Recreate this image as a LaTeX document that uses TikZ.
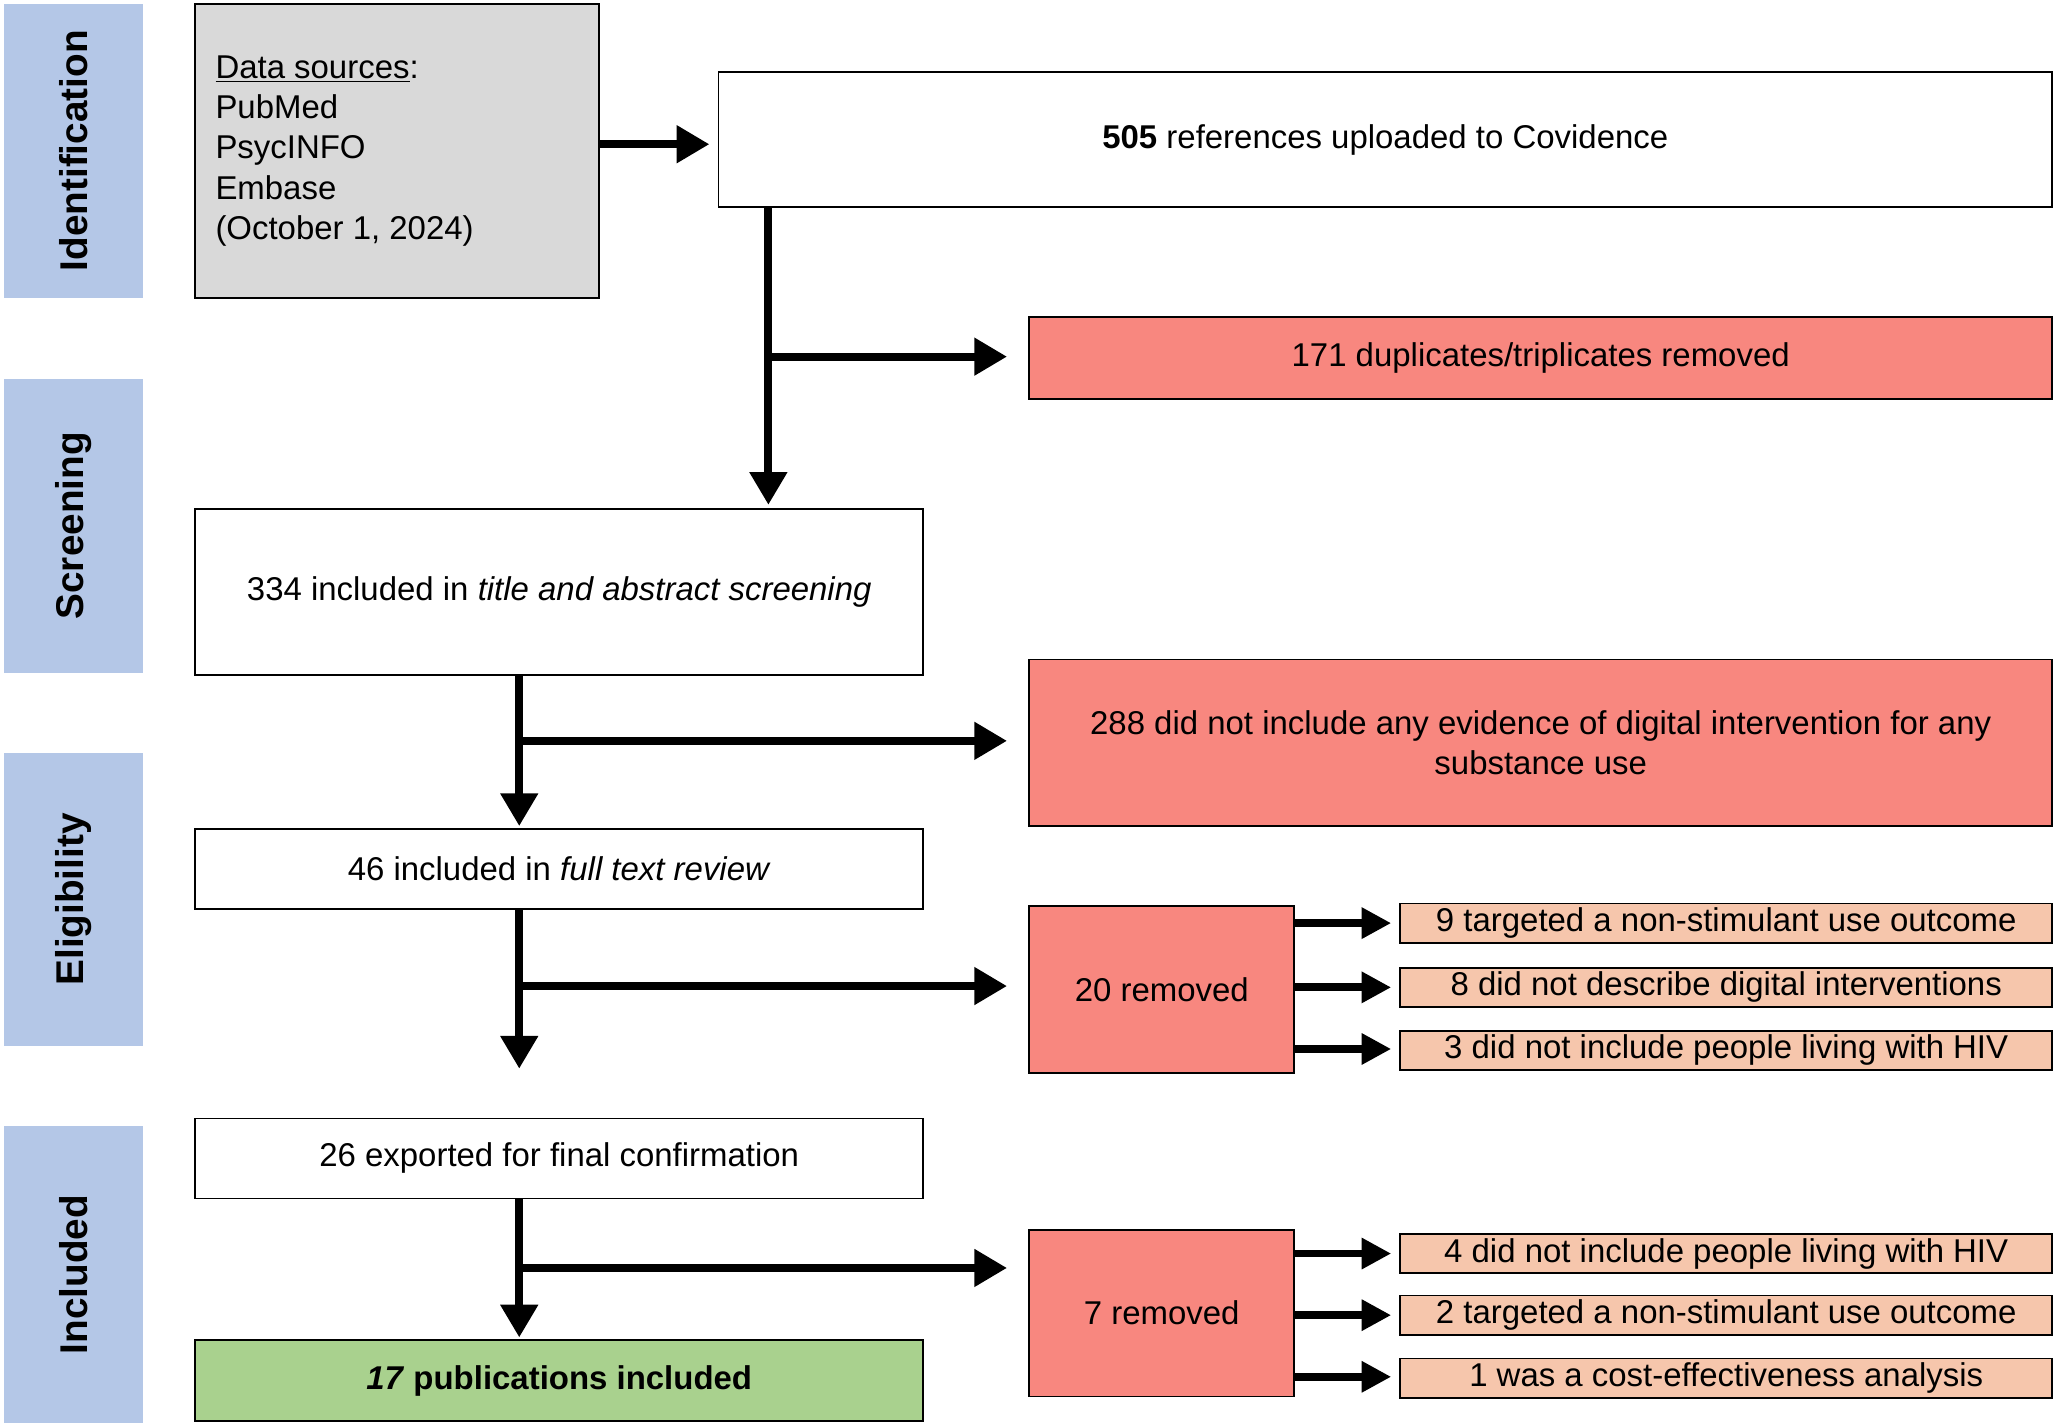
\documentclass[tikz,border=0pt]{standalone}
\usepackage{fontspec}
\setmainfont{Liberation Sans}
\usetikzlibrary{fit,arrows.meta}
\definecolor{side}{HTML}{B4C7E7}
\definecolor{gr}{HTML}{D9D9D9}
\definecolor{rd}{HTML}{F8877F}
\definecolor{pc}{HTML}{F6C6AC}
\definecolor{gn}{HTML}{A9D18E}
\begin{document}
\begin{tikzpicture}[x=0.02cm,y=-0.02cm,
  font=\fontsize{14.3}{17.5}\selectfont,
  box/.style={draw=black,line width=0.8pt,inner sep=0pt},
  tx/.style={align=center,inner sep=0pt},
  sidebox/.style={fill=side,inner sep=0pt},
  sidetext/.style={rotate=90,font=\fontsize{16.8}{19}\selectfont\bfseries},
  arr/.style={line width=3.4pt,-{Triangle[length=0.5cm,width=0.55cm]}},
  sarr/.style={line width=3.4pt,-{Triangle[length=0.45cm,width=0.45cm]}}]
\useasboundingbox (0,0) rectangle (1568,1088);
% side bars
\node[sidebox,fit={(3,3)(109,227)}] (s1) {};
\node[sidetext] (s1t) at (s1.center) {Identification};
\node[sidebox,fit={(3,289)(109,513)}] (s2) {};
\node[sidetext] (s2t) at (s2.center) {Screening};
\node[sidebox,fit={(3,574)(109,798)}] (s3) {};
\node[sidetext] (s3t) at (s3.center) {Eligibility};
\node[sidebox,fit={(3,859)(109,1085)}] (s4) {};
\node[sidetext] (s4t) at (s4.center) {Included};
% boxes
\node[box,fill=gr,fit={(149,3)(457,227)}] (ds) {};
\node[anchor=west,align=left,inner sep=0pt] (dst) at (164,115) {\underline{Data sources}:\\PubMed\\PsycINFO\\Embase\\(October 1, 2024)};
\node[box,fill=white,fit={(548,55)(1565,158)}] (ref) {};
\node[tx] (reft) at (ref.center) {\textbf{505} references uploaded to Covidence};
\node[box,fill=rd,fit={(785,242)(1565,304)}] (dup) {};
\node[tx] (dupt) at (dup.center) {171 duplicates/triplicates removed};
\node[box,fill=white,fit={(149,388)(704,515)}] (scr) {};
\node[tx] (scrt) at (scr.center) {334 included in \textit{title and abstract screening}};
\node[box,fill=rd,fit={(785,503)(1565,630)}] (ex1) {};
\node[tx] (ex1t) at (ex1.center) {288 did not include any evidence of digital intervention for any\\substance use};
\node[box,fill=white,fit={(149,632)(704,693)}] (ft) {};
\node[tx] (ftt) at (ft.center) {46 included in \textit{full text review}};
\node[box,fill=rd,fit={(785,691)(987,818)}] (r20) {};
\node[tx] (r20t) at (r20.center) {20 removed};
\node[box,fill=pc,fit={(1068,689)(1565,719)}] (a1) {};
\node[tx] (a1t) at (a1.center) {9 targeted a non-stimulant use outcome};
\node[box,fill=pc,fit={(1068,738)(1565,768)}] (a2) {};
\node[tx] (a2t) at (a2.center) {8 did not describe digital interventions};
\node[box,fill=pc,fit={(1068,786)(1565,816)}] (a3) {};
\node[tx] (a3t) at (a3.center) {3 did not include people living with HIV};
\node[box,fill=white,fit={(149,853)(704,914)}] (exp) {};
\node[tx] (expt) at (exp.center) {26 exported for final confirmation};
\node[box,fill=rd,fit={(785,938)(987,1065)}] (r7) {};
\node[tx] (r7t) at (r7.center) {7 removed};
\node[box,fill=pc,fit={(1068,941)(1565,971)}] (b1) {};
\node[tx] (b1t) at (b1.center) {4 did not include people living with HIV};
\node[box,fill=pc,fit={(1068,988)(1565,1018)}] (b2) {};
\node[tx] (b2t) at (b2.center) {2 targeted a non-stimulant use outcome};
\node[box,fill=pc,fit={(1068,1036)(1565,1066)}] (b3) {};
\node[tx] (b3t) at (b3.center) {1 was a cost-effectiveness analysis};
\node[box,fill=gn,fit={(149,1022)(704,1084)}] (inc) {};
\node[tx] (inct) at (inc.center) {\textbf{\textit{17} publications included}};
% connectors
\coordinate (e1) at (541,110);
\draw[arr] (ds.east |- e1) -- (e1);
\coordinate (v1) at (586,385);
\coordinate (j1) at (586,272);
\coordinate (t1) at (768,272);
\draw[arr] (ref.south -| v1) -- (v1);
\draw[arr] (j1) -- (t1);
\coordinate (v2) at (396,630);
\coordinate (j2) at (396,565);
\coordinate (t2) at (768,565);
\draw[arr] (scr.south -| v2) -- (v2);
\draw[arr] (j2) -- (t2);
\coordinate (v3) at (396,815);
\coordinate (j3) at (396,752);
\coordinate (t3) at (768,752);
\draw[arr] (ft.south -| v3) -- (v3);
\draw[arr] (j3) -- (t3);
\coordinate (v4) at (396,1020);
\coordinate (j4) at (396,967);
\coordinate (t4) at (768,967);
\draw[arr] (exp.south -| v4) -- (v4);
\draw[arr] (j4) -- (t4);
\foreach \n/\y in {a1/704,a2/753,a3/800}{
  \coordinate (p\n) at (1061,\y);
  \draw[sarr] (r20.east |- p\n) -- (p\n);}
\foreach \n/\y in {b1/956,b2/1003,b3/1050}{
  \coordinate (p\n) at (1061,\y);
  \draw[sarr] (r7.east |- p\n) -- (p\n);}
\end{tikzpicture}
\end{document}
